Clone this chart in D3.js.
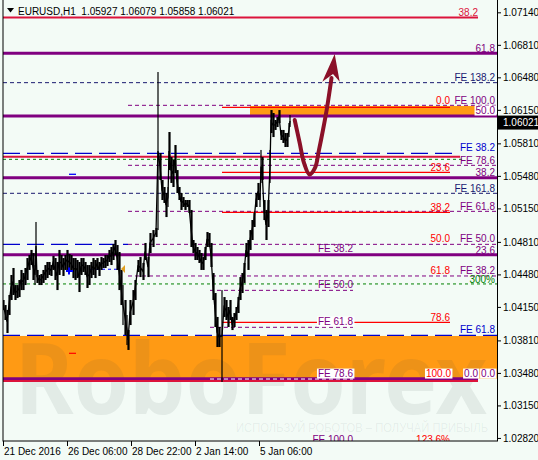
<!DOCTYPE html>
<html><head><meta charset="utf-8">
<script src="https://cdn.jsdelivr.net/npm/d3@7"></script>
<style>
body{margin:0;background:#f3fbf6;}
svg{display:block;font-family:"Liberation Sans",Arial,sans-serif;}
</style>
</head><body>
<svg id="c" width="538" height="460"></svg>
<script>
// ---------------- data ----------------
const titleText = "EURUSD,H1  1.05927 1.06079 1.05858 1.06021";
const lastPrice = 1.06021;
const xTickBars = [0, 64, 128, 192, 256];
const xTickLabels = ["21 Dec 2016", "26 Dec 06:00", "28 Dec 22:00", "2 Jan 14:00", "5 Jan 06:00"];
const yTickValues = [1.07140,1.06810,1.06480,1.06150,1.05810,1.05480,1.05150,1.04810,1.04480,1.04150,1.03810,1.03480,1.03150,1.02820];

// H1 bars: bar index (hours from start), high, low
const barIndex = [0,2,4,6,8,10,12,14,16,18,20,22,24,26,28,30,32,33,34,36,38,40,42,44,46,48,50,52,54,56,58,60,62,64,66,68,70,72,74,76,78,80,82,84,86,88,90,92,94,96,98,100,102,104,106,108,110,112,114,116,118,120,122,124,125,127,130,132,135,137,140,142,145,147,150,153,155,157,159,161,163,165,166,168,170,172,174,176,178,180,182,184,186,188,190,192,194,196,198,200,202,204,206,208,210,212,214,216,219,221,223,225,227,229,231,233,235,237,239,241,243,245,247,249,251,253,255,257,258,259,261,263,265,267,268,270,272,274,276,278,280,282,284,286,287];
const barHigh = [1.04220,1.04169,1.04119,1.04271,1.04474,1.04545,1.04372,1.04372,1.04423,1.04525,1.04494,1.04545,1.04646,1.04677,1.04728,1.04697,1.04575,1.05012,1.04525,1.04474,1.04484,1.04525,1.04575,1.04606,1.04606,1.04575,1.04667,1.04646,1.04606,1.04728,1.04677,1.04646,1.04677,1.04728,1.04687,1.04677,1.04646,1.04646,1.04626,1.04606,1.04646,1.04646,1.04606,1.04575,1.04575,1.04606,1.04646,1.04626,1.04646,1.04606,1.04656,1.04646,1.04677,1.04677,1.04728,1.04758,1.04788,1.04829,1.04778,1.04707,1.04525,1.04372,1.04220,1.04068,1.03915,1.04220,1.04321,1.04423,1.04626,1.04656,1.04596,1.04799,1.04656,1.04900,1.04930,1.04951,1.06534,1.05712,1.05438,1.05367,1.05306,1.05367,1.05925,1.05671,1.05641,1.05793,1.05539,1.05367,1.05306,1.05265,1.05235,1.05235,1.05235,1.05134,1.04829,1.04799,1.04758,1.04728,1.04697,1.04656,1.04758,1.04910,1.04900,1.04799,1.04494,1.04291,1.04048,1.03946,1.04321,1.04250,1.04220,1.04149,1.04220,1.04048,1.04088,1.04149,1.04250,1.04453,1.04494,1.04596,1.04799,1.04829,1.04930,1.05032,1.05103,1.05306,1.05408,1.05306,1.05743,1.05671,1.05235,1.05134,1.05235,1.05743,1.06148,1.06118,1.06047,1.06077,1.06148,1.05946,1.05946,1.05915,1.05915,1.06017,1.06098];
const barLow = [1.04119,1.04017,1.03885,1.04068,1.04220,1.04271,1.04220,1.04240,1.04250,1.04321,1.04321,1.04372,1.04423,1.04525,1.04575,1.04423,1.04372,1.04525,1.04393,1.04372,1.04372,1.04393,1.04423,1.04443,1.04474,1.04464,1.04525,1.04423,1.04321,1.04474,1.04525,1.04464,1.04525,1.04525,1.04525,1.04504,1.04443,1.04423,1.04443,1.04301,1.04474,1.04504,1.04474,1.04342,1.04372,1.04443,1.04474,1.04443,1.04525,1.04464,1.04525,1.04545,1.04545,1.04565,1.04606,1.04575,1.04626,1.04677,1.04525,1.04321,1.04169,1.03966,1.03865,1.03763,1.03713,1.03966,1.04068,1.04220,1.04504,1.04453,1.04423,1.04626,1.04453,1.04697,1.04758,1.04859,1.04930,1.05438,1.05235,1.05205,1.05062,1.05164,1.05539,1.05408,1.05367,1.05509,1.05306,1.05235,1.05134,1.05164,1.05134,1.05164,1.05103,1.04758,1.04697,1.04626,1.04626,1.04596,1.04525,1.04525,1.04626,1.04758,1.04758,1.04555,1.04220,1.03946,1.03743,1.03743,1.03388,1.04048,1.04017,1.03946,1.04017,1.03915,1.03946,1.04017,1.04088,1.04220,1.04291,1.04393,1.04656,1.04525,1.04728,1.04829,1.04961,1.05164,1.05235,1.05164,1.05408,1.05438,1.05032,1.04829,1.04961,1.05408,1.05915,1.05874,1.05946,1.05976,1.06017,1.05844,1.05814,1.05773,1.05773,1.05874,1.05976];

// horizontal levels (price, bar range, kind)
const levelPrice = [1.07087,1.06724,1.06426,1.06196,1.06176,1.06088,1.05709,1.05675,1.05648,1.05587,1.05516,1.05461,1.05303,1.05120,1.05110,1.04785,1.04785,1.04680,1.04532,1.04464,1.04383,1.04318,1.03994,1.03943,1.03862,1.03421,1.03398,1.03418,1.05496,1.03679];
const levelFrom  = [0,0,0,125,219,0,0,0,0,125,219,0,0,125,219,0,125,0,87,125,0,207,219,207,0,0,0,207,66,66];
const levelTo    = [475,494,494,494,447,494,450,457,459,494,447,494,494,494,447,125,494,494,115,494,494,350,447,350,494,475,475,350,73,73];
const levelKind  = ["crimson","purpleThick","navyDash","purpleDash","redThin","purpleThick","blueLong","crimson","greenDash","purpleDash","redThin","purpleThick","navyDash","purpleDash","redThin","blueLong","purpleDash","purpleThick","blueDot","purpleDash","greenDash","purpleDash","redThin","purpleDash","blueLong","purpleThick","crimson","whiteDash","blueSolid","redThin"];

// orange zones
const zoneTop = [1.06189, 1.03855];
const zoneBottom = [1.06098, 1.03423];
const zoneFrom = [247, 0];
const zoneTo = [475, 494];

// level labels (text, right-anchor bar, baseline price, colour key, white box)
const labelText = ["38.2","61.8","FE 138.2","FE 100.0","0.0","50.0","FE 38.2","FE 78.6","23.6","38.2","FE 161.8","38.2","FE 61.8","50.0","FE 50.0","FE 38.2","23.6","61.8","FE 38.2","300%","FE 50.0","78.6","FE 61.8","FE 61.8","FE 78.6","100.0","0.0","0.0","FE 100.0","123.6%"];
const labelBar = [475,492,492,492,447,492,492,492,447,492,492,447,492,447,492,350,492,447,492,492,350,447,350,492,350,448,475,492,350,447];
const labelPrice = [1.07103,1.06737,1.06443,1.06209,1.06209,1.06108,1.05737,1.05600,1.05534,1.05479,1.05321,1.05128,1.05134,1.04809,1.04809,1.04707,1.04692,1.04479,1.04479,1.04393,1.04342,1.04012,1.03966,1.03885,1.03438,1.03438,1.03438,1.03438,1.02764,1.02764];
const labelColor = ["crimson","purple","navy","purple","red","purple","blue","purple","red","purple","navy","red","purple","red","purple","purple","purple","red","purple","green","purple","red","purple","blue","purple","red","purple","purple","purple","red"];
const labelBox = [0,0,0,0,0,1,0,0,0,0,0,0,0,0,0,0,0,0,0,0,0,0,1,0,1,1,1,1,0,0];

// forecast arrow (bar, price)
const arrowBar = [291.7,296.7,301,306.5,312,316,320,324,328.5];
const arrowPrice = [1.06047,1.05814,1.05611,1.05494,1.05560,1.05743,1.05946,1.06169,1.06473];
const arrowHeadBar = [331.7,319.3,330,336.7];
const arrowHeadPrice = [1.06717,1.06436,1.06514,1.06436];

// trade markers
const buyMarker = {bar:66, price:1.04514};
const closeMarker = {bar:118, price:1.04535};

// ---------------- drawing ----------------
const colors = {crimson:"#dc143c", red:"#ff0000", purple:"#800080", navy:"#191970", blue:"#0000cd", green:"#008000"};
const kindStyle = {
  crimson:{c:"#dc143c", w:2, d:null},
  purpleThick:{c:"#800080", w:3, d:null},
  navyDash:{c:"#191970", w:1, d:"4,3"},
  purpleDash:{c:"#800080", w:1, d:"4,3"},
  redThin:{c:"#ff0000", w:1.2, d:null},
  blueLong:{c:"#0000cd", w:1.3, d:"17,7"},
  greenDash:{c:"#008000", w:1, d:"3,3"},
  blueDot:{c:"#0000ff", w:1.2, d:"3,3"},
  whiteDash:{c:"#ffffff", w:1, d:"4,3"},
  blueSolid:{c:"#0000ff", w:1.3, d:null}
};

const W = 538, H = 460;
const L = 3, R = 497, B = 441;
const x = d3.scaleLinear().domain([0, 494]).range([L, R]);
const y = d3.scaleLinear().domain([1.07265, 1.02789]).range([0, B]);

const svg = d3.select("#c");
svg.append("rect").attr("width", W).attr("height", H).attr("fill", "#f3fbf6");

svg.append("defs").append("clipPath").attr("id", "pc")
  .append("rect").attr("x", L).attr("y", 0).attr("width", R - L).attr("height", B);
const plot = svg.append("g").attr("clip-path", "url(#pc)");

// zones
plot.selectAll("rect.zone").data(zoneTop).join("rect").attr("class", "zone")
  .attr("x", (d, i) => x(zoneFrom[i]))
  .attr("width", (d, i) => x(zoneTo[i]) - x(zoneFrom[i]))
  .attr("y", d => y(d))
  .attr("height", (d, i) => y(zoneBottom[i]) - y(d))
  .attr("fill", "#ff9a14");

// watermark
plot.append("text").attr("x", 15).attr("y", 414)
  .attr("textLength", 472).attr("lengthAdjust", "spacingAndGlyphs")
  .style("font-family", "'Noto Sans','Liberation Sans',sans-serif")
  .style("font-weight", "bold").style("font-size", "98px")
  .attr("fill", "#2a4848").attr("fill-opacity", 0.085)
  .text("RoboForex");
plot.append("text").attr("x", 236).attr("y", 432)
  .attr("textLength", 252).attr("lengthAdjust", "spacingAndGlyphs")
  .style("font-size", "12.5px")
  .attr("fill", "#2a4848").attr("fill-opacity", 0.08)
  .text("ИСПОЛЬЗУЙ РОБОТОВ – ПОЛУЧАЙ ПРИБЫЛЬ");

// levels
plot.selectAll("line.lvl").data(levelPrice).join("line").attr("class", "lvl")
  .attr("x1", (d, i) => x(levelFrom[i])).attr("x2", (d, i) => x(levelTo[i]))
  .attr("y1", d => y(d)).attr("y2", d => y(d))
  .attr("stroke", (d, i) => kindStyle[levelKind[i]].c)
  .attr("stroke-width", (d, i) => kindStyle[levelKind[i]].w)
  .attr("stroke-dasharray", (d, i) => kindStyle[levelKind[i]].d);

// price bars
const bars = barIndex.map((b, i) => ({b, h: barHigh[i], l: barLow[i], n: i + 1 < barIndex.length ? barIndex[i + 1] : b + 1}));
const pg = plot.append("g");
pg.append("path").datum(bars)
  .attr("d", d3.line().x(d => x(d.b)).y(d => y((d.h + d.l) / 2)))
  .attr("fill", "none").attr("stroke", "#000").attr("stroke-width", 1.3);
pg.selectAll("rect").data(bars).join("rect")
  .attr("x", d => x(d.b) - 0.6)
  .attr("width", d => (d.h - d.l) > 0.004 ? 1.2 : Math.max(1.2, Math.min(2.2, x(d.n) - x(d.b) + 0.2)))
  .attr("y", d => y(d.h))
  .attr("height", d => y(d.l) - y(d.h))
  .attr("fill", "#000");

// markers
plot.append("path")
  .attr("d", `M${x(buyMarker.bar) - 3},${y(buyMarker.price)}h7M${x(buyMarker.bar)},${y(buyMarker.price) - 3.5}v7`)
  .attr("stroke", "#0000ff").attr("stroke-width", 2);
plot.append("path")
  .attr("d", `M${x(closeMarker.bar)},${y(closeMarker.price)}l4,-4v8z`)
  .attr("fill", "#e0a020");

// labels
const lg = plot.append("g").style("font-size", "10px");
labelText.forEach((t, i) => {
  const tx = x(labelBar[i]), ty = y(labelPrice[i]);
  const grp = lg.append("g");
  const te = grp.append("text").attr("x", tx).attr("y", ty).attr("text-anchor", "end")
    .attr("fill", colors[labelColor[i]]).text(t);
  if (labelBox[i]) {
    const bb = te.node().getBBox();
    grp.insert("rect", "text").attr("x", bb.x - 1).attr("y", bb.y + 0.5)
      .attr("width", bb.width + 2).attr("height", bb.height - 1).attr("fill", "#ffffff");
  }
});

// forecast arrow
const ap = arrowBar.map((b, i) => [x(b), y(arrowPrice[i])]);
plot.append("path").attr("d", d3.line().curve(d3.curveCatmullRom)(ap))
  .attr("fill", "none").attr("stroke", "#8b1028").attr("stroke-width", 4).attr("stroke-linecap", "round");
const hp = arrowHeadBar.map((b, i) => [x(b), y(arrowHeadPrice[i])]);
plot.append("path").attr("d", "M" + hp.join("L") + "Z").attr("fill", "#8b1028");

// frame
svg.append("line").attr("x1", L).attr("x2", L).attr("y1", 0).attr("y2", B + 0.5).attr("stroke", "#000");
svg.append("line").attr("x1", L).attr("x2", R).attr("y1", B).attr("y2", B).attr("stroke", "#000");

// right axis
const ya = svg.append("g").attr("transform", `translate(${R},0)`)
  .call(d3.axisRight(y).tickValues(yTickValues).tickFormat(d3.format(".5f")).tickSize(4).tickSizeOuter(0).tickPadding(2));
ya.select(".domain").attr("stroke", "#000").attr("d", `M0.5,0V${B + 0.5}`);
ya.selectAll("text").style("font-family", "'Liberation Sans',Arial,sans-serif").style("font-size", "10px").attr("fill", "#000");
ya.selectAll("line").attr("stroke", "#000");

// bottom axis
const xa = svg.append("g");
xa.selectAll("line").data(xTickBars).join("line")
  .attr("x1", d => x(d) + 0.5).attr("x2", d => x(d) + 0.5).attr("y1", B).attr("y2", B + 5).attr("stroke", "#000");
xa.selectAll("text").data(xTickBars).join("text")
  .attr("x", d => x(d) + 1).attr("y", 455).style("font-size", "10px").attr("fill", "#000")
  .text((d, i) => xTickLabels[i]);

// last price box
const ly = y(lastPrice);
svg.append("rect").attr("x", R + 1).attr("y", ly - 7).attr("width", W - R - 1).attr("height", 14).attr("fill", "#000");
svg.append("text").attr("x", R + 6).attr("y", ly + 3.5).style("font-size", "10px").attr("fill", "#fff").text(lastPrice.toFixed(5));

// title
svg.append("path").attr("d", "M7,8h7l-3.5,4.5z").attr("fill", "#000");
svg.append("text").attr("x", 18).attr("y", 15).style("font-size", "10px").style("white-space", "pre").attr("fill", "#000").text(titleText);
</script>
</body></html>
